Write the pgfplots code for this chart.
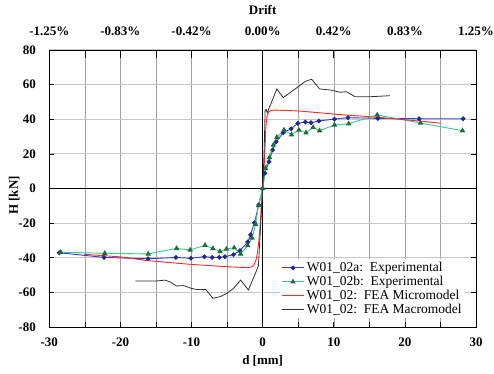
\documentclass[border=0pt]{standalone}
\usepackage{fontspec}
\setmainfont{Liberation Serif}
\usepackage{pgfplots}
\pgfplotsset{compat=1.18}
\definecolor{serA}{HTML}{3A3AC8}
\definecolor{serAm}{HTML}{1F2A8C}
\definecolor{serB}{HTML}{3CC88A}
\definecolor{serBm}{HTML}{1E6B3C}
\definecolor{serC}{HTML}{FF2A2A}
\definecolor{serD}{HTML}{303030}
\begin{document}
\begin{tikzpicture}[font=\fontsize{13}{15}\selectfont]
\useasboundingbox (-49.3pt,-46pt) rectangle (444.7pt,327pt);
\begin{axis}[
  at={(0pt,0pt)}, anchor=south west,
  scale only axis, width=426.7pt, height=277pt,
  xmin=-30, xmax=30, ymin=-80, ymax=80,
  xtick={-30,-20,-10,0,10,20,30},
  xticklabels={-30,-20,-10,0,10,20,30},
  minor xtick={-25,-15,-5,5,15,25},
  ytick={-80,-60,-40,-20,0,20,40,60,80},
  yticklabels={-80,-60,-40,-20,0,20,40,60,80},
  xtick pos=bottom, ytick pos=both,
  tick align=inside,
  major tick length=5pt, minor tick length=5pt,
  xmajorgrids, xminorgrids, ymajorgrids,
  x grid style={gray!75, line width=0.5pt},
  y grid style={gray!45, line width=1pt},
  axis line style={black, line width=0.8pt},
  tick style={black, line width=0.6pt},
  tick label style={font=\bfseries\fontsize{13}{15}\selectfont},
  xticklabel style={anchor=base, yshift=-19.5pt},
  yticklabel style={anchor=east, xshift=-10pt},
  xlabel={\bfseries d [mm]}, ylabel={\bfseries H [kN]},
  xlabel style={at={(axis description cs:0.5,-0.137)}, anchor=base},
  ylabel style={at={(axis description cs:-0.0734,0.475)}, anchor=base},
  legend style={at={(0.974,0.032)}, anchor=south east, draw=none, fill=white,
    font=\fontsize{13.5}{15}\selectfont, inner sep=1pt, row sep=-1pt},
  legend cell align=left,
  legend image code/.code={
    \draw[mark repeat=2, mark phase=2, #1] plot coordinates {(0cm,0cm) (0.4cm,0cm) (0.8cm,0cm)};
  },
]
\draw[black, line width=1pt] (axis cs:0,-80) -- (axis cs:0,80);
\draw[black, line width=1pt] (axis cs:-30,0) -- (axis cs:30,0);

\addplot[color=serA, line width=0.9pt, mark=*, mark size=1.9pt, mark options={fill=serAm, draw=serAm}] coordinates {
(-28.6,-37.1) (-22.3,-39.8) (-16.1,-40.6) (-12.2,-39.8) (-10.1,-40.3) (-8.2,-39.4) (-7.1,-39.8) (-6.1,-39.8) (-5.3,-39.4) (-4.1,-38.2) (-3.2,-35.9) (-2.1,-30.9) (-1.7,-26.7) (-1.15,-19.8) (-0.55,-9.5) (0,0) (0.3,8.8) (0.9,15.5) (1.4,22.2) (1.9,27.0) (2.9,32.2) (4.0,34.5) (4.95,37.6) (6.0,38.4) (6.8,38.0) (7.9,39.0) (10.1,40.1) (12.0,40.9) (16.2,40.5) (22.0,40.3) (28.2,40.3)
};
\addlegendentry{W01\_02a:\ \ Experimental}

\addplot[color=serB, line width=0.9pt, mark=triangle*, mark size=2.3pt, mark options={fill=serBm, draw=serBm}] coordinates {
(-28.4,-36.8) (-22.2,-37.4) (-16.1,-37.8) (-12.1,-34.6) (-10.2,-35.5) (-8.1,-32.8) (-7.0,-34.6) (-6.0,-36.4) (-5.1,-35.0) (-4.0,-34.2) (-3.1,-37.8) (-2.1,-33.0) (-1.5,-28.6) (-1.0,-20.7) (-0.6,-9.9) (0,0) (0.4,11.7) (0.96,18.0) (1.5,25.1) (2.0,29.6) (3.0,33.8) (4.05,31.1) (5.1,33.8) (6.1,32.2) (7.1,35.3) (8.0,33.4) (10.1,36.7) (12.1,37.4) (16.1,42.5) (22.2,37.8) (28.1,33.4)
};
\addlegendentry{W01\_02b:\ \ Experimental}

\addplot[color=serC, line width=0.9pt, mark=none] coordinates {
(-25.1,-38.0) (-20,-39.5) (-16.1,-41.7) (-10.2,-43.8) (-5.0,-45.2) (-2.0,-45.7) (-1.5,-45.2) (-1.2,-44) (-0.9,-41) (-0.7,-36) (-0.5,-29) (-0.35,-21) (-0.2,-11) (0,0) (0.2,12) (0.35,25) (0.45,35) (0.6,41.5) (0.8,44) (1.1,45) (1.7,45.3) (5.0,44.8) (10,43.0) (16.1,41.1) (21.9,39.0) (25.0,37.7)
};
\addlegendentry{W01\_02:\ \ FEA Micromodel}

\addplot[color=serD, line width=0.8pt, mark=none] coordinates {
(-17.9,-53.4) (-14.9,-53.4) (-13.7,-52.9) (-13.0,-54) (-12.1,-56.3) (-11.1,-56.1) (-10.0,-57.7) (-9.3,-58.3) (-8.0,-58.3) (-7.0,-63.4) (-6.0,-62.5) (-5.0,-60.5) (-4.1,-57.7) (-3.1,-52.9) (-2.0,-58.6) (-0.6,-44.8) (-0.4,-30) (-0.2,-15) (0,0) (0.2,20) (0.35,45.3) (0.5,45.7) (0.65,43.8) (2.0,57.5) (2.9,52.5) (5.0,58.8) (6.0,61.9) (6.9,63.1) (8.0,57.5) (9.5,56.9) (10.9,55.6) (11.8,55.9) (13.0,53.0) (15.1,53.0) (17.9,53.6)
};
\addlegendentry{W01\_02:\ \ FEA Macromodel}
\end{axis}

\begin{axis}[
  at={(0pt,0pt)}, anchor=south west,
  scale only axis, width=426.7pt, height=277pt,
  xmin=-1.25, xmax=1.25, ymin=-80, ymax=80,
  axis x line*=top, axis y line=none,
  xtick={-1.25,-0.83333,-0.41667,0,0.41667,0.83333,1.25},
  xticklabels={-1.25\%,-0.83\%,-0.42\%,0.00\%,0.42\%,0.83\%,1.25\%},
  minor xtick={-1.04167,-0.625,-0.20833,0.20833,0.625,1.04167},
  tick align=inside,
  major tick length=8pt, minor tick length=8pt,
  axis line style={black, line width=0.8pt},
  tick style={black, line width=0.6pt},
  tick label style={font=\bfseries\fontsize{13}{15}\selectfont},
  xticklabel style={anchor=base, yshift=14pt},
  xlabel={\bfseries Drift},
  xlabel style={at={(axis description cs:0.5,1.1264)}, anchor=base},
]
\end{axis}
\end{tikzpicture}
\end{document}
